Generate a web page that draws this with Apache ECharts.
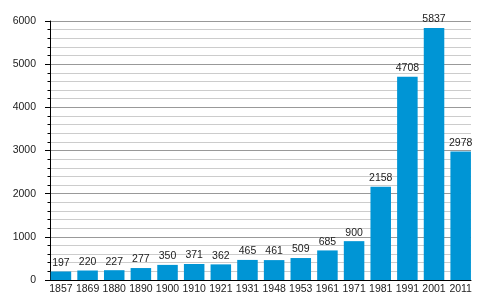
<!DOCTYPE html>
<html><head><meta charset="utf-8">
<script src="https://cdn.jsdelivr.net/npm/echarts@6/dist/echarts.min.js"></script>
<style>html,body{margin:0;padding:0;background:#fff}#c{width:500px;height:300px}</style>
</head><body><div id="c"></div>
<script>
const categories = ['1857','1869','1880','1890','1900','1910','1921','1931','1948','1953','1961','1971','1981','1991','2001','2011'];
const values = [197,220,227,277,350,371,362,465,461,509,685,900,2158,4708,5837,2978];
const yTicks = [0,1000,2000,3000,4000,5000,6000];

const FONT = '"Liberation Sans", Arial';
const FS = 10.5;
const chart = echarts.init(document.getElementById('c'), null, {renderer:'canvas'});
chart.setOption({
  animation:false,
  grid:[
    {left:50,right:29,top:21,bottom:20,containLabel:false},
    {left:47.6,right:26,top:21,bottom:20,containLabel:false}
  ],
  xAxis:[
    {gridIndex:0,type:'category',data:categories,
      axisLine:{lineStyle:{color:'#000',width:1}},
      axisTick:{show:false},axisLabel:{show:false},splitLine:{show:false}},
    {gridIndex:1,type:'category',data:categories,
      axisLine:{show:false},axisTick:{show:false},
      axisLabel:{color:'#222',fontFamily:FONT,fontSize:FS,margin:4,interval:0}}
  ],
  yAxis:[
    {gridIndex:0,type:'value',min:yTicks[0],max:yTicks[yTicks.length-1],interval:1000,
      axisLine:{show:true,lineStyle:{color:'#000',width:1}},
      axisTick:{show:true,inside:false,length:5,lineStyle:{color:'#000'}},
      minorTick:{show:true,splitNumber:5,length:2.5,lineStyle:{color:'#000'}},
      splitLine:{show:true,lineStyle:{color:'#999',width:1}},
      minorSplitLine:{show:true,lineStyle:{color:'#ccc',width:1}},
      axisLabel:{color:'#222',fontFamily:FONT,fontSize:FS,margin:14,formatter:v=>String(v)}},
    {gridIndex:1,type:'value',min:yTicks[0],max:yTicks[yTicks.length-1],interval:1000,
      axisLine:{show:false},axisTick:{show:false},axisLabel:{show:false},splitLine:{show:false}}
  ],
  series:[{type:'bar',xAxisIndex:1,yAxisIndex:1,data:values,barCategoryGap:'23%',
    itemStyle:{color:'#0095d5'},
    label:{show:true,position:'top',distance:3,color:'#222',fontFamily:FONT,fontSize:FS}}]
});
</script></body></html>
